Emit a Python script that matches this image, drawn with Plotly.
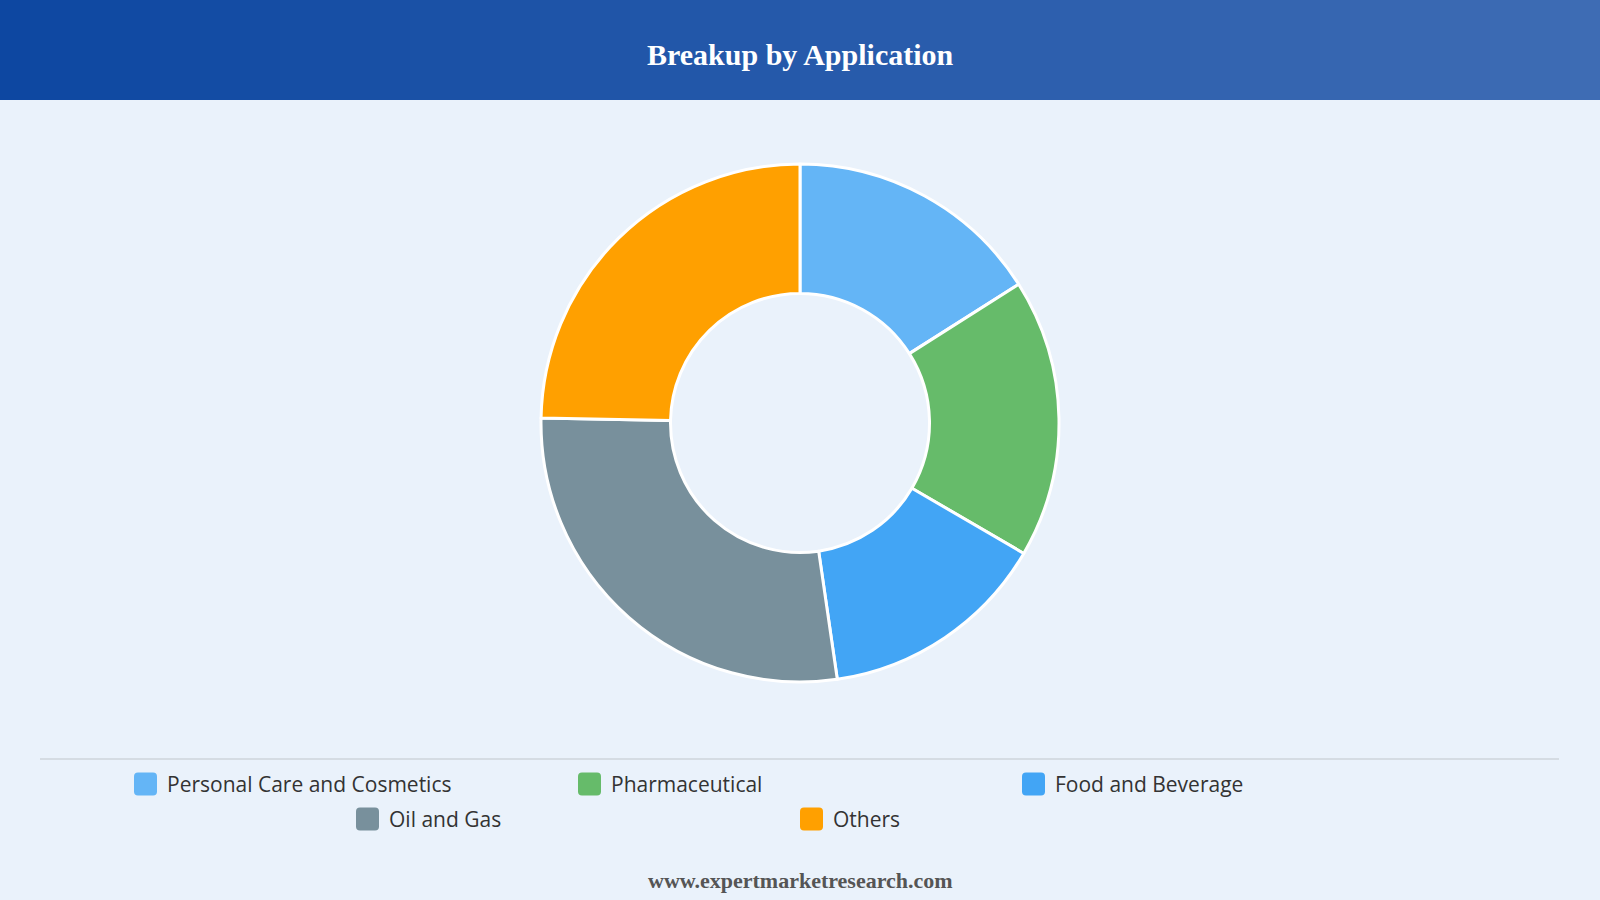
import plotly.graph_objects as go

categories = ["Personal Care and Cosmetics", "Pharmaceutical", "Food and Beverage", "Oil and Gas", "Others"]
values = [16.0, 17.4, 14.3, 27.6, 24.7]
colors = ["#64B5F6", "#66BB6A", "#42A5F5", "#78909C", "#FFA000"]

W, H = 1600, 900
BG = "#EAF2FB"

fig = go.Figure()
fig.add_trace(go.Pie(
    labels=categories, values=values, hole=0.5, sort=False, direction="clockwise",
    rotation=0, textinfo="none", hoverinfo="label+percent",
    marker=dict(colors=colors, line=dict(color="white", width=3)),
    domain=dict(x=[0, 1], y=[(H - 423 - 259) / H, (H - 423 + 259) / H]),
    showlegend=False,
))

shapes = []
# header gradient
c0 = (13, 71, 161)
c1 = (62, 108, 180)
n = 160
for i in range(n):
    t = i / (n - 1)
    col = tuple(round(a + (b - a) * t) for a, b in zip(c0, c1))
    shapes.append(dict(type="rect", xref="paper", yref="paper",
                       x0=i / n, x1=min(1, (i + 1.6) / n), y0=1 - 100 / H, y1=1,
                       fillcolor="rgb(%d,%d,%d)" % col, line=dict(width=0), layer="below"))
# separator line
shapes.append(dict(type="line", xref="paper", yref="paper", x0=40 / W, x1=1559 / W,
                   y0=1 - 759 / H, y1=1 - 759 / H, line=dict(color="#D5DCE3", width=2)))

annotations = [
    dict(text="<b>Breakup by Application</b>", x=0.5, y=1 - 54 / H, xref="paper", yref="paper",
         showarrow=False, font=dict(family="Liberation Serif", size=30, color="white"),
         xanchor="center", yanchor="middle"),
    dict(text="<b>www.expertmarketresearch.com</b>", x=0.5, y=1 - 880 / H, xref="paper", yref="paper",
         showarrow=False, font=dict(family="Liberation Serif", size=22, color="#555555"),
         xanchor="center", yanchor="middle"),
]


def rounded_rect(x0, y0, x1, y1, r):
    # pixel coords (y down) -> paper coords path
    def px(x):
        return x / W

    def py(y):
        return 1 - y / H
    pts = [
        f"M {px(x0 + r)},{py(y0)}",
        f"L {px(x1 - r)},{py(y0)}",
        f"Q {px(x1)},{py(y0)} {px(x1)},{py(y0 + r)}",
        f"L {px(x1)},{py(y1 - r)}",
        f"Q {px(x1)},{py(y1)} {px(x1 - r)},{py(y1)}",
        f"L {px(x0 + r)},{py(y1)}",
        f"Q {px(x0)},{py(y1)} {px(x0)},{py(y1 - r)}",
        f"L {px(x0)},{py(y0 + r)}",
        f"Q {px(x0)},{py(y0)} {px(x0 + r)},{py(y0)}",
        "Z",
    ]
    return " ".join(pts)


# custom legend: 3 columns in row 1, 2 centered in row 2
col_w = 444
rows = [[0, 1, 2], [3, 4]]
row_y = [784, 819]
for r, idxs in enumerate(rows):
    start = 134 if r == 0 else 134 + col_w / 2
    for k, idx in enumerate(idxs):
        x0 = start + k * col_w
        yc = row_y[r]
        shapes.append(dict(type="path", xref="paper", yref="paper",
                           path=rounded_rect(x0, yc - 11.5, x0 + 23, yc + 11.5, 4),
                           fillcolor=colors[idx], line=dict(width=0)))
        annotations.append(dict(text=categories[idx], x=(x0 + 31) / W, y=1 - yc / H,
                                xref="paper", yref="paper", showarrow=False,
                                xanchor="left", yanchor="middle",
                                font=dict(family="Open Sans", size=21, color="#333333")))

fig.update_layout(
    width=W, height=H, margin=dict(l=0, r=0, t=0, b=0),
    paper_bgcolor=BG, plot_bgcolor=BG,
    shapes=shapes, annotations=annotations, showlegend=False,
)

fig.write_html("out.html")
